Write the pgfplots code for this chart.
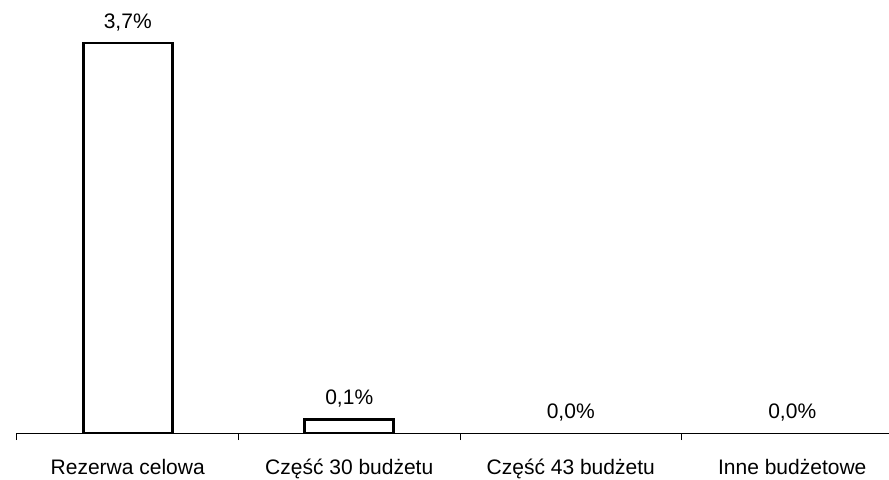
\documentclass[border=0pt]{standalone}
\usepackage{fontspec}
\setmainfont{Liberation Sans}
\usepackage{pgfplots}
\pgfplotsset{compat=1.18}
\begin{document}
\fontsize{10.5}{12.6}\selectfont
\begin{tikzpicture}
\begin{axis}[
  at={(8.5pt,23pt)}, anchor=south west,
  scale only axis,
  width=443pt, height=210.8pt,
  xmin=-0.5, xmax=3.5, ymin=0, ymax=4,
  axis y line=none,
  axis x line*=bottom,
  axis line style={line width=0.5pt, -},
  xtick={0,1,2,3},
  xticklabels={Rezerwa celowa, Część 30 budżetu, Część 43 budżetu, Inne budżetowe},
  major x tick style={draw=none},
  minor xtick={-0.5,0.5,1.5,2.5,3.5},
  minor tick length=3.5pt,
  minor x tick style={line width=0.5pt, black},
  tick align=outside,
  xticklabel style={font=\fontsize{10.5}{12.6}\selectfont, anchor=base, yshift=-16.5pt},
  clip=false,
]
\addplot[ybar, bar width=44.5pt, draw=black, line width=1.4pt, fill=white]
  coordinates {(0,3.7) (1,0.13)};
\addplot[draw=none, mark=none, point meta=explicit symbolic,
  nodes near coords,
  nodes near coords style={anchor=base, yshift=7.5pt, inner sep=0pt, font=\fontsize{10.5}{12.6}\selectfont}]
  coordinates {(0,3.7) [3,7\%] (1,0.13) [0,1\%] (2,0) [0,0\%] (3,0) [0,0\%]};
\end{axis}
\pgfresetboundingbox
\useasboundingbox (0,0) rectangle (444.5pt,239.5pt);
\end{tikzpicture}
\end{document}
